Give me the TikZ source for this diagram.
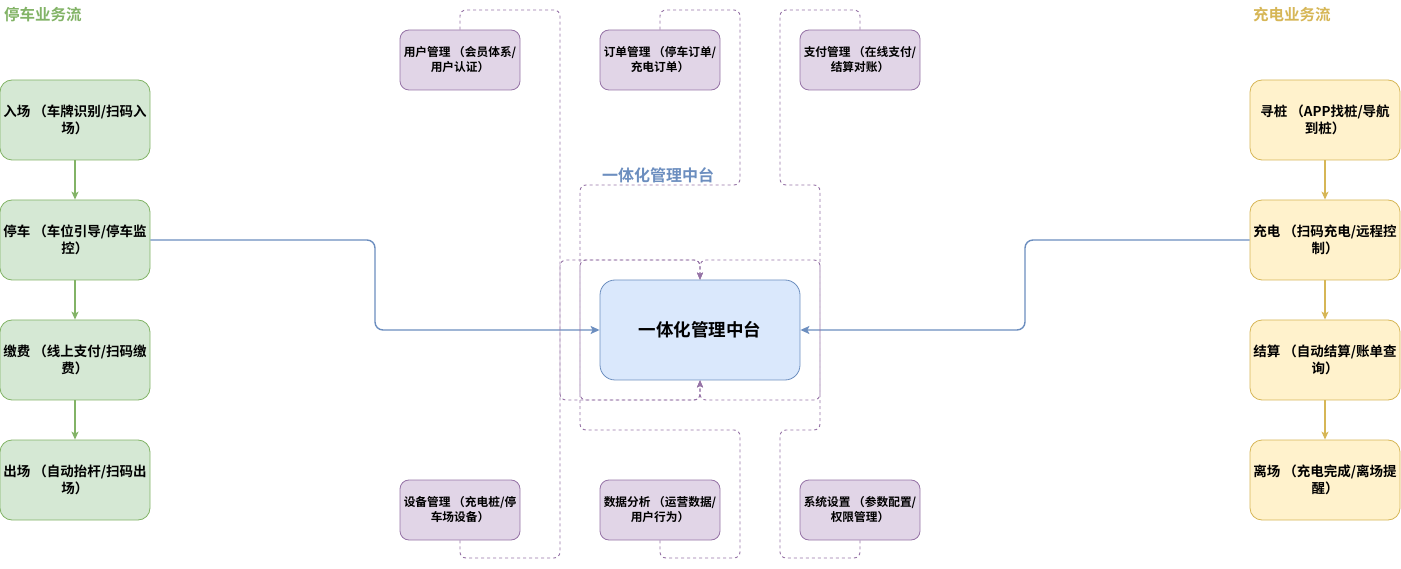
\documentclass[tikz,border=0pt]{standalone}
\usepackage{fontspec}
\setmainfont{Noto Sans CJK SC}[BoldFont={Noto Sans CJK SC Bold}]
\usetikzlibrary{arrows.meta}
\definecolor{gfill}{HTML}{D5E8D4}\definecolor{gline}{HTML}{82B366}
\definecolor{yfill}{HTML}{FFF2CC}\definecolor{yline}{HTML}{D6B656}
\definecolor{bfill}{HTML}{DAE8FC}\definecolor{bline}{HTML}{6C8EBF}
\definecolor{pfill}{HTML}{E1D5E7}\definecolor{pline}{HTML}{9673A6}
\tikzset{
  flowbox/.style={draw, rounded corners=12pt, minimum width=150pt, minimum height=80pt, align=center, font=\fontsize{13.5}{17}\selectfont\bfseries, inner sep=0pt, line width=0.8pt},
  gbox/.style={flowbox, fill=gfill, draw=gline},
  ybox/.style={flowbox, fill=yfill, draw=yline},
  modbox/.style={draw=pline, fill=pfill, rounded corners=9pt, minimum width=120pt, minimum height=60pt, align=center, font=\fontsize{11.7}{15}\selectfont\bfseries, inner sep=0pt, line width=0.8pt},
  hubbox/.style={draw=bline, fill=bfill, rounded corners=15pt, minimum width=200pt, minimum height=100pt, font=\fontsize{17.5}{20}\selectfont\bfseries, line width=0.8pt},
  garrow/.style={draw=gline, line width=1.2pt, -{Stealth[length=8pt,width=7pt,inset=2pt]}},
  yarrow/.style={draw=yline, line width=1.2pt, -{Stealth[length=8pt,width=7pt,inset=2pt]}},
  barrow/.style={draw=bline, line width=1.4pt, rounded corners=8pt, -{Stealth[length=9pt,width=8pt,inset=2pt]}},
  dedge/.style={draw=pline, line width=0.9pt, dash pattern=on 3pt off 3pt, rounded corners=6pt, -{Stealth[length=7pt,width=6pt,inset=1.5pt]}},
  ttl/.style={font=\fontsize{15.5}{18}\selectfont\bfseries, anchor=west, inner sep=0pt},
}
\begin{document}
\begin{tikzpicture}[x=1pt,y=-1pt]
\path[use as bounding box] (0,0) rectangle (1401,569);
% titles
\node[ttl, text=gline] (tl) at (4,15) {停车业务流};
\node[ttl, text=yline] (tr) at (1253,15) {充电业务流};
\node[font=\fontsize{16}{18}\selectfont\bfseries, text=bline, inner sep=0pt] (hublabel) at (658,175) {一体化管理中台};
% left flow
\node[gbox] (l1) at (75,120) {入场 （车牌识别/扫码入\\场）};
\node[gbox] (l2) at (75,240) {停车 （车位引导/停车监\\控）};
\node[gbox] (l3) at (75,360) {缴费 （线上支付/扫码缴\\费）};
\node[gbox] (l4) at (75,480) {出场 （自动抬杆/扫码出\\场）};
% right flow
\node[ybox] (r1) at (1325,120) {寻桩 （APP找桩/导航\\到桩）};
\node[ybox] (r2) at (1325,240) {充电 （扫码充电/远程控\\制）};
\node[ybox] (r3) at (1325,360) {结算 （自动结算/账单查\\询）};
\node[ybox] (r4) at (1325,480) {离场 （充电完成/离场提\\醒）};
% hub
\node[hubbox] (hub) at (700,330) {一体化管理中台};
% modules
\node[modbox] (m1) at (460,60) {用户管理 （会员体系/\\用户认证）};
\node[modbox] (m2) at (660,60) {订单管理 （停车订单/\\充电订单）};
\node[modbox] (m3) at (860,60) {支付管理 （在线支付/\\结算对账）};
\node[modbox] (m4) at (460,510) {设备管理 （充电桩/停\\车场设备）};
\node[modbox] (m5) at (660,510) {数据分析 （运营数据/\\用户行为）};
\node[modbox] (m6) at (860,510) {系统设置 （参数配置/\\权限管理）};
% flow arrows
\draw[garrow] (l1) -- (l2);
\draw[garrow] (l2) -- (l3);
\draw[garrow] (l3) -- (l4);
\draw[yarrow] (r1) -- (r2);
\draw[yarrow] (r2) -- (r3);
\draw[yarrow] (r3) -- (r4);
\draw[barrow] (l2.east) -- (375,240) -- (375,330) -- (hub.west);
\draw[barrow] (r2.west) -- (1025,240) -- (1025,330) -- (hub.east);
% dashed module edges
\draw[dedge] (m1.north) -- (460,10) -- (560,10) -- (560,400) -- (700,400) -- (hub.south);
\draw[dedge] (m2.north) -- (660,10) -- (740,10) -- (740,185) -- (580,185) -- (580,400) -- (700,400) -- (hub.south);
\draw[dedge] (m3.north) -- (860,10) -- (780,10) -- (780,185) -- (820,185) -- (820,400) -- (700,400) -- (hub.south);
\draw[dedge] (m4.south) -- (460,558) -- (560,558) -- (560,260) -- (700,260) -- (hub.north);
\draw[dedge] (m5.south) -- (660,558) -- (740,558) -- (740,430) -- (580,430) -- (580,260) -- (700,260) -- (hub.north);
\draw[dedge] (m6.south) -- (860,558) -- (780,558) -- (780,430) -- (820,430) -- (820,260) -- (700,260) -- (hub.north);
\end{tikzpicture}
\end{document}
